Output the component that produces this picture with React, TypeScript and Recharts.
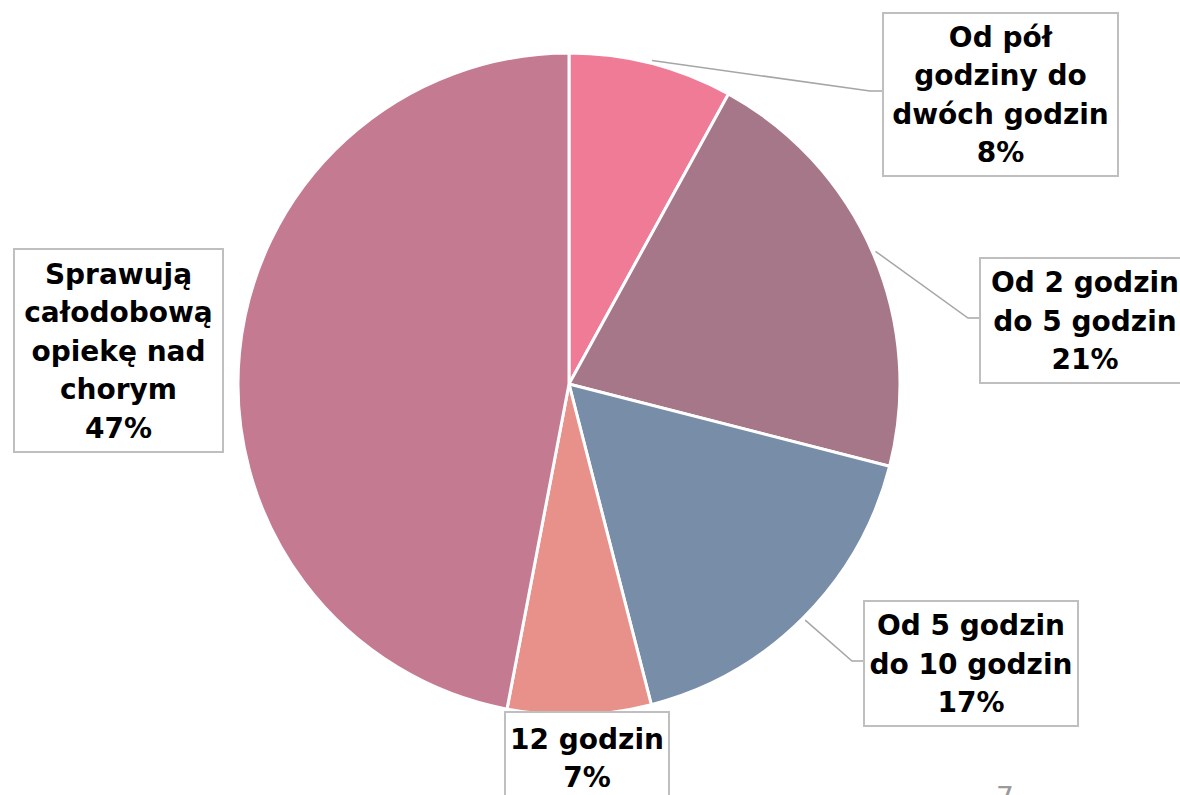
import React from 'react';
import { PieChart, Pie, Cell } from 'recharts';

const categories = [
  'Od pół godziny do dwóch godzin',
  'Od 2 godzin do 5 godzin',
  'Od 5 godzin do 10 godzin',
  '12 godzin',
  'Sprawują całodobową opiekę nad chorym',
];
const labelLines = [
  ['Od pół', 'godziny do', 'dwóch godzin'],
  ['Od 2 godzin', 'do 5 godzin'],
  ['Od 5 godzin', 'do 10 godzin'],
  ['12 godzin'],
  ['Sprawują', 'całodobową', 'opiekę nad', 'chorym'],
];
const values = [8, 21, 17, 7, 47];
const colors = ['#EF7B96', '#A67789', '#778DA8', '#E8918A', '#C47A91'];

const data = categories.map((name, i) => ({ name, value: values[i] }));

// label boxes (x, y, w, h), leader elbow point, text shift
const boxes = [
  { x: 883, y: 13, w: 235, h: 163, elbow: [870, 91], lineY: 91, dy: 0 },
  { x: 980, y: 258, w: 210, h: 125, elbow: [968, 318], lineY: 318, dy: 0 },
  { x: 864, y: 601, w: 214, h: 125, elbow: [852, 661], lineY: 661, dy: 0 },
  { x: 505, y: 712, w: 164, h: 100, elbow: null, lineY: 0, dy: -4 },
  { x: 14, y: 249, w: 209, h: 203, elbow: null, lineY: 0, dy: 0 },
];

const RAD = Math.PI / 180;
const LINE_H = 38.5;

const renderLabel = (props: any) => {
  const { cx, cy, midAngle, outerRadius, index, value } = props;
  const b = boxes[index];
  const lines = [...labelLines[index], `${value}%`];
  const tx = b.x + b.w / 2;
  const first = b.y + b.h / 2 - ((lines.length - 1) * LINE_H) / 2 + 10 + b.dy;
  let leader = null;
  if (b.elbow) {
    const sx = cx + (outerRadius + 3) * Math.cos(-midAngle * RAD);
    const sy = cy + (outerRadius + 3) * Math.sin(-midAngle * RAD);
    leader = (
      <polyline
        points={`${sx},${sy} ${b.elbow[0]},${b.elbow[1]} ${b.x},${b.lineY}`}
        fill="none"
        stroke="#A6A6A6"
        strokeWidth={1.5}
      />
    );
  }
  return (
    <g key={`lbl-${index}`}>
      {leader}
      <rect x={b.x} y={b.y} width={b.w} height={b.h} fill="#fff" stroke="#BFBFBF" strokeWidth={2} />
      <text
        textAnchor="middle"
        fontFamily="'DejaVu Sans', sans-serif"
        fontWeight="bold"
        fontSize={28}
        fill="#000"
      >
        {lines.map((l, i) => (
          <tspan key={i} x={tx} y={first + i * LINE_H}>
            {l}
          </tspan>
        ))}
      </text>
    </g>
  );
};

export default function App() {
  return (
    <div style={{ position: 'absolute', left: 0, top: 0, width: 1180, height: 795, background: '#fff' }}>
      <PieChart width={1180} height={795} margin={{ top: 0, right: 0, bottom: 0, left: 0 }}>
        <Pie
          data={data}
          dataKey="value"
          nameKey="name"
          cx={569}
          cy={384}
          outerRadius={331}
          startAngle={90}
          endAngle={-270}
          stroke="#fff"
          strokeWidth={3}
          label={renderLabel}
          labelLine={false}
          isAnimationActive={false}
        >
          {data.map((d, i) => (
            <Cell key={d.name} fill={colors[i]} />
          ))}
        </Pie>
        <text x={1005} y={807} fill="#9A9A9A" fontSize={28} fontFamily="'DejaVu Sans', sans-serif" textAnchor="middle">
          7
        </text>
      </PieChart>
    </div>
  );
}
